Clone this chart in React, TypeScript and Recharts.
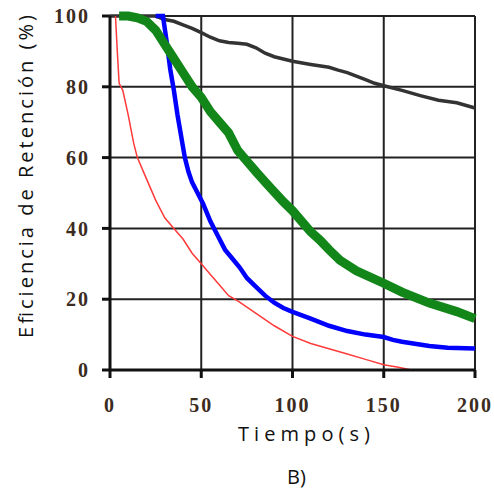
import { LineChart, Line, XAxis, YAxis, CartesianGrid } from "recharts";

const xTicks = [0, 50, 100, 150, 200];
const yTicks = [0, 20, 40, 60, 80, 100];

// [tiempo (s), eficiencia (%)]
const redSeries = [
  [3, 100], [4, 90], [5, 81], [7, 79], [10, 72], [13, 64], [15, 60], [20, 54], [25, 48],
  [30, 43], [35, 40], [40, 37], [45, 33], [50, 30], [55, 27], [60, 24], [65, 21], [70, 19.5],
  [80, 16], [90, 12.5], [100, 9.5], [110, 7.5], [120, 6], [130, 4.5], [140, 3], [150, 1.5],
  [158, 0.8], [165, 0],
];
const blackSeries = [
  [0, 100], [25, 100], [30, 99], [35, 98.5], [40, 97.5], [45, 96.5], [50, 95.3], [55, 94],
  [60, 93], [65, 92.5], [70, 92.3], [75, 92], [80, 91], [85, 89.5], [90, 88.5], [100, 87.2],
  [110, 86.3], [120, 85.5], [125, 84.7], [130, 84], [140, 82], [145, 81], [150, 80.3],
  [160, 79], [170, 77.5], [180, 76.2], [190, 75.5], [200, 74],
];
const blueSeries = [
  [25, 100], [29, 100], [31, 93], [33, 85], [35, 79], [37, 72], [39, 66], [41, 60], [43, 56],
  [45, 53], [48, 50], [51, 47], [55, 42], [59, 38], [63, 34], [67, 31.5], [71, 29], [75, 26],
  [80, 23.5], [85, 21], [90, 19], [95, 17.5], [100, 16.4], [110, 14.5], [120, 12.5],
  [130, 11], [140, 10], [150, 9.3], [155, 8.5], [160, 8], [175, 6.8], [185, 6.3], [200, 6.1],
];
const greenSeries = [
  [5, 100], [10, 100], [15, 99.5], [20, 98.5], [25, 96], [30, 92], [35, 88], [40, 84],
  [45, 80], [50, 77], [55, 73], [60, 70], [65, 67], [70, 62], [75, 59], [80, 56], [87, 52],
  [95, 47.5], [100, 45], [110, 39], [115, 36.7], [120, 34], [126, 31], [135, 28], [150, 24.5],
  [160, 22], [175, 18.9], [190, 16.5], [200, 14.5],
];

const toRows = (s: number[][]) => s.map(([t, v]) => ({ t, v }));

const tickStyle = {
  fill: "#3b2b20",
  fontSize: 20,
  fontWeight: 700,
  fontFamily: "'Liberation Serif', serif",
  letterSpacing: 2,
};

export default function App() {
  return (
    <div style={{ position: "absolute", left: 0, top: 0, width: 494, height: 491, background: "#fff" }}>
      <LineChart width={494} height={491} margin={{ top: 16, right: 19, left: 0, bottom: 91 }}>
        <CartesianGrid stroke="#222" strokeWidth={2} />
        <XAxis
          type="number"
          dataKey="t"
          domain={[0, 200]}
          ticks={xTicks}
          height={30}
          tickSize={8}
          tickMargin={20}
          stroke="#111"
          strokeWidth={3}
          tick={tickStyle}
        />
        <YAxis
          type="number"
          dataKey="v"
          domain={[0, 100]}
          ticks={yTicks}
          width={110}
          tickSize={8}
          tickMargin={12}
          stroke="#111"
          strokeWidth={3}
          tick={tickStyle}
        />
        <Line data={toRows(blackSeries)} dataKey="v" stroke="#333" strokeWidth={3.5} dot={false} isAnimationActive={false} />
        <Line data={toRows(redSeries)} dataKey="v" stroke="#ff3a3a" strokeWidth={1.5} dot={false} isAnimationActive={false} />
        <Line data={toRows(blueSeries)} dataKey="v" stroke="#0000ff" strokeWidth={4.5} dot={false} isAnimationActive={false} />
        <Line data={toRows(greenSeries)} dataKey="v" stroke="#13861a" strokeWidth={9} dot={false} isAnimationActive={false} />
      </LineChart>
      <svg
        width={494}
        height={491}
        style={{ position: "absolute", left: 0, top: 0, pointerEvents: "none" }}
        fontFamily="'Open Sans', 'DejaVu Sans', sans-serif"
        fill="#111"
      >
        <text x={33} y={338} transform="rotate(-90 33 338)" fontSize={20} textLength={323} lengthAdjust="spacing">
          Eficiencia de Retención (%)
        </text>
        <text x={238} y={441} fontSize={20} textLength={132} lengthAdjust="spacing">
          Tiempo(s)
        </text>
        <text x={287} y={484} fontSize={20}>
          B)
        </text>
      </svg>
    </div>
  );
}
